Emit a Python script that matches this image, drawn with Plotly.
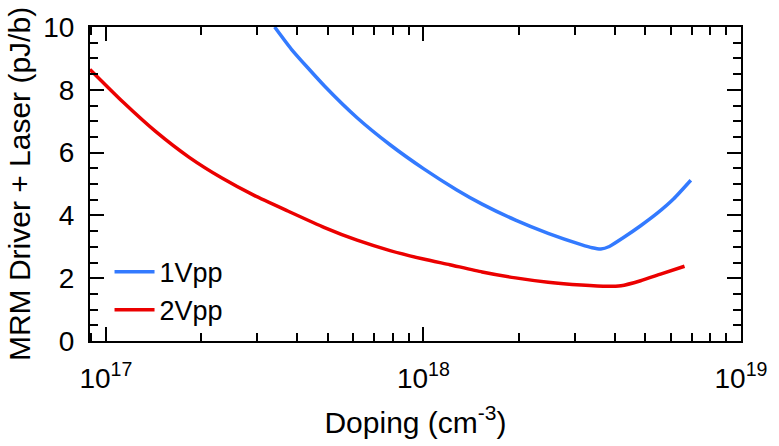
import plotly.graph_objects as go

# Data (doping in cm^-3, energy in pJ/b)
doping_1v = [3.40e17, 3.84e17, 4.88e17, 6.18e17, 7.85e17, 1.00e18, 1.27e18, 1.53e18,
             1.95e18, 2.47e18, 3.14e18, 3.40e18, 3.62e18, 3.85e18, 4.29e18, 4.83e18,
             5.45e18, 6.14e18, 6.95e18]
energy_1v = [10.0, 9.29, 8.12, 7.11, 6.25, 5.49, 4.82, 4.36,
             3.85, 3.43, 3.07, 2.97, 2.93, 3.01, 3.31, 3.67,
             4.07, 4.53, 5.12]

doping_2v = [8.91e16, 1.13e17, 1.44e17, 1.83e17, 2.32e17, 2.94e17, 3.74e17, 4.86e17,
             6.18e17, 7.85e17, 1.00e18, 1.21e18, 1.53e18, 1.95e18, 2.47e18, 3.14e18,
             3.80e18, 4.19e18, 4.83e18, 5.58e18, 6.64e18]
energy_2v = [8.65, 7.62, 6.66, 5.85, 5.19, 4.63, 4.14, 3.62,
             3.21, 2.88, 2.61, 2.43, 2.20, 2.01, 1.87, 1.78,
             1.74, 1.76, 1.92, 2.13, 2.38]

x_tickvals = [1e17, 1e18, 1e19]
x_ticktext = ["10<sup>17</sup>", "10<sup>18</sup>", "10<sup>19</sup>"]
y_tickvals = [0, 2, 4, 6, 8, 10]

FONT = "Liberation Sans, Arial, sans-serif"
BLUE = "rgb(51,122,255)"
RED = "rgb(235,0,0)"

fig = go.Figure()
fig.add_trace(go.Scatter(x=doping_1v, y=energy_1v, mode="lines", name="1Vpp",
                         line=dict(color=BLUE, width=3.5, shape="spline", smoothing=0.5)))
fig.add_trace(go.Scatter(x=doping_2v, y=energy_2v, mode="lines", name="2Vpp",
                         line=dict(color=RED, width=3.5, shape="spline", smoothing=0.5)))

axis_common = dict(showline=True, linecolor="black", linewidth=2, mirror="allticks",
                   ticks="inside", ticklen=14, tickwidth=2, tickcolor="black",
                   showgrid=False, zeroline=False, ticklabeloverflow="allow",
                   tickfont=dict(family=FONT, size=28, color="black"))

fig.update_xaxes(type="log", range=[16.95, 19.0], tickvals=x_tickvals, ticktext=x_ticktext,
                 minor=dict(ticks="inside", ticklen=8, tickwidth=2, tickcolor="black",
                            dtick="D1", showgrid=False),
                 ticklabelstandoff=11,
                 title=dict(text="Doping (cm<sup>-3</sup>)", standoff=19,
                            font=dict(family=FONT, size=30, color="black")),
                 **axis_common)
fig.update_yaxes(range=[0, 10], tickvals=y_tickvals,
                 minor=dict(ticks="inside", ticklen=8, tickwidth=2, tickcolor="black",
                            dtick=0.5, showgrid=False),
                 ticklabelstandoff=8,
                 title=dict(text="MRM Driver + Laser (pJ/b)", standoff=4,
                            font=dict(family=FONT, size=30, color="black")),
                 **axis_common)

fig.update_layout(
    width=779, height=446,
    margin=dict(l=90, r=31, t=15, b=102),
    paper_bgcolor="white", plot_bgcolor="white",
    font=dict(family=FONT, size=27, color="black"),
    showlegend=True,
    legend=dict(x=0.03, y=0.02, xanchor="left", yanchor="bottom",
                bgcolor="rgba(0,0,0,0)", font=dict(family=FONT, size=27, color="black"),
                itemwidth=40, tracegroupgap=0),
)

fig.write_html("out.html")
